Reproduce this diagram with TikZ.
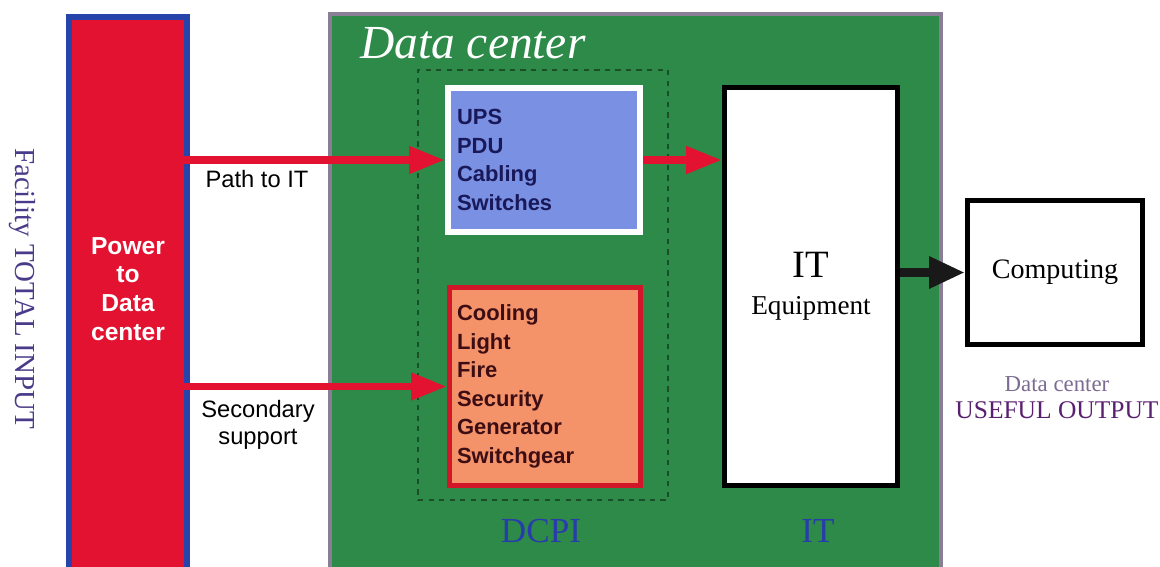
\documentclass[tikz,border=0pt]{standalone}
\usepackage{fontspec}
\setmainfont{Liberation Serif}
\newfontfamily\arialFont{Liberation Sans}
\usetikzlibrary{arrows.meta}
\definecolor{greenFill}{RGB}{45,138,72}
\definecolor{greenEdge}{RGB}{138,126,150}
\definecolor{dashColor}{RGB}{25,78,40}
\definecolor{powerRed}{RGB}{226,18,48}
\definecolor{powerBlue}{RGB}{38,68,170}
\definecolor{upsBlue}{RGB}{122,144,226}
\definecolor{upsText}{RGB}{25,25,90}
\definecolor{supportFill}{RGB}{244,146,106}
\definecolor{supportEdge}{RGB}{208,22,40}
\definecolor{supportText}{RGB}{60,14,20}
\definecolor{inputColor}{RGB}{74,58,138}
\definecolor{labelBlue}{RGB}{40,60,172}
\definecolor{outputGray}{RGB}{122,108,146}
\definecolor{outputPurple}{RGB}{90,32,112}
\newcommand{\px}{0.02cm}
\tikzstyle{pixelGrid} = [x = 0.02cm, y = -0.02cm]
\tikzstyle{boxStyle} = [rectangle, inner sep = 0pt]
\tikzstyle{listStyle} = [boxStyle, align = left, font = \arialFont\bfseries\fontsize{12.5}{16.2}\selectfont]
\tikzstyle{sansText} = [font = \arialFont\fontsize{13.5}{15.3}\selectfont, align = center]
\tikzstyle{blackBoxStyle} = [boxStyle, draw = black, fill = white, line width = 5*\px]
\tikzstyle{feedArrowStyle} = [draw = powerRed, line width = 4.5pt, -{Triangle[length = 20.4pt, width = 14.7pt]}]
\tikzstyle{outArrowStyle} = [draw = black!90, line width = 5.1pt, -{Triangle[length = 20.4pt, width = 17pt]}]
\tikzstyle{groupLabel} = [anchor = base, text = labelBlue, font = \fontsize{20}{22}\selectfont]

\begin{document}
\begin{tikzpicture}[pixelGrid]
        \useasboundingbox (0,0) rectangle (1160,566);
        \fill [white] (0,0) rectangle (1160,566);
        \clip (0,0) rectangle (1160,566);

        \node [boxStyle, draw = greenEdge, fill = greenFill, line width = 4*\px, minimum width = 611*\px, minimum height = 586*\px] (dataCenter) at (635.5, 307) {};
        \node [anchor = base west, text = white, font = \itshape\fontsize{27}{29}\selectfont] (titleText) at (354, 58) {Data center};
        \node [boxStyle, draw = dashColor, dashed, line width = 2*\px, minimum width = 250*\px, minimum height = 430*\px] (dcpiFrame) at (543, 285) {};

        \node [boxStyle, draw = powerBlue, fill = powerRed, line width = 6*\px, minimum width = 118*\px, minimum height = 583*\px] (power) at (128, 308.5) {};
        \node [text = white, align = center, font = \arialFont\bfseries\fontsize{14}{16.4}\selectfont] (powerText) at (128, 289) {Power\\to\\Data\\center};
        \node [text = inputColor, rotate = -90, font = \fontsize{16.5}{18}\selectfont] (inputText) at (22, 289) {Facility TOTAL INPUT};

        \node [listStyle, draw = white, fill = upsBlue, text = upsText, line width = 6*\px, minimum width = 192*\px, minimum height = 144*\px, text width = 174*\px] (ups) at (544, 160) {UPS\\PDU\\Cabling\\Switches};
        \node [listStyle, draw = supportEdge, fill = supportFill, text = supportText, line width = 5*\px, minimum width = 191*\px, minimum height = 198*\px, text width = 176*\px] (support) at (545, 386.5) {Cooling\\Light\\Fire\\Security\\Generator\\Switchgear};

        \node [blackBoxStyle, align = center, minimum width = 173*\px, minimum height = 398*\px, font = \fontsize{15.5}{21}\selectfont] (itBox) at (811, 286.5) {{\fontsize{22}{21}\selectfont IT}\\Equipment};
        \node [blackBoxStyle, minimum width = 175*\px, minimum height = 144*\px, font = \fontsize{16}{18}\selectfont] (computing) at (1055, 272.5) {Computing};

        \node [groupLabel] (dcpiLabel) at (541, 542) {DCPI};
        \node [groupLabel] (itLabel) at (818, 542) {IT};
        \node [sansText, anchor = base] (pathLabel) at (257, 187) {Path to IT};
        \node [sansText] (supportLabel) at (258, 425) {Secondary\\support};
        \node [align = center, font = \fontsize{14.5}{15.3}\selectfont] (outputText) at (1057, 398) {{\color{outputGray}\fontsize{13}{15.3}\selectfont Data center}\\{\color{outputPurple}USEFUL OUTPUT}};

        \draw [feedArrowStyle] ([xshift = -6*\px]power.east |- ups.west) -- (ups.west);
        \draw [feedArrowStyle] (ups.east) -- (itBox.west |- ups.east);
        \draw [feedArrowStyle] ([xshift = -6*\px]power.east |- support.west) -- (support.west);
        \draw [outArrowStyle] (itBox.east |- computing.west) -- (computing.west);
      \end{tikzpicture}
\end{document}
